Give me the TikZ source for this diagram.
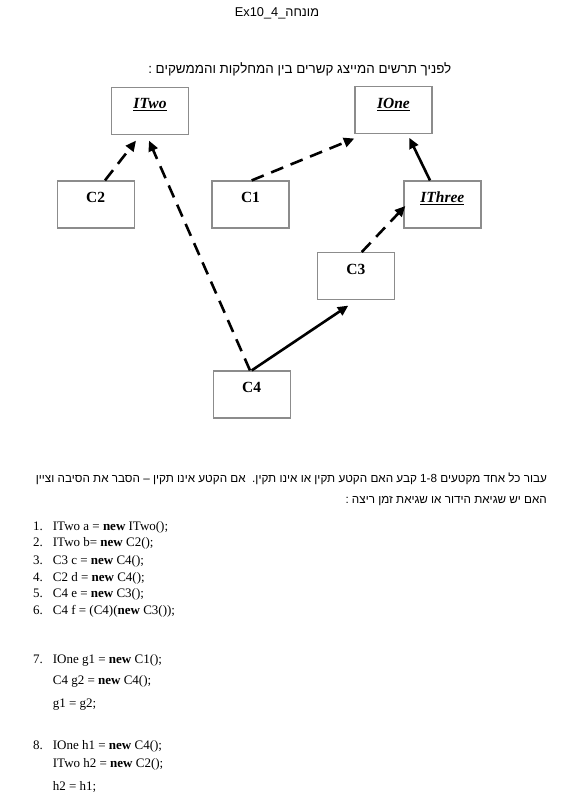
\documentclass[tikz,border=0pt]{standalone}
\usepackage{fontspec}
\setmainfont{Liberation Serif}
\newfontfamily\hebfont[Script=Hebrew]{Liberation Sans}
\newfontfamily\latsans{Liberation Sans}
\TeXXeTstate=1
\usetikzlibrary{arrows.meta,calc}
\definecolor{boxgray}{RGB}{140,140,140}
\newcommand{\ulthick}[1]{\setbox0\hbox{#1}\rlap{\rule[-2.6pt]{\wd0}{1.4pt}}\box0}
\tikzset{
  umlbox/.style={draw=boxgray, line width=1.2pt, minimum width=77pt, minimum height=47pt,
    inner sep=0pt, text height=21.5pt, text depth=25.5pt,
    font=\fontsize{15.5}{18}\selectfont\bfseries},
  depline/.style={line width=2.6pt, dash pattern=on 13pt off 8pt,
    -{Triangle[length=10.5pt,width=9.5pt]}},
  inhline/.style={line width=2.6pt, -{Triangle[length=10.5pt,width=9.5pt]}},
  codetxt/.style={anchor=base west, inner sep=0pt, font=\fontsize{13}{15}\selectfont},
  hebtxt/.style={anchor=base east, inner sep=0pt}
}
\begin{document}
\begin{tikzpicture}[x=1pt,y=-1pt]
\useasboundingbox[fill=white] (0,0) rectangle (560,798);

% header
\node[inner sep=0pt, anchor=base, font=\latsans\fontsize{12.8}{14}\selectfont] (title) at (277,16)
  {Ex10\_4\_{\hebfont\beginR מונחה\endR}};
\node[hebtxt, font=\hebfont\fontsize{13.4}{15}\selectfont] (intro) at (451.5,73.5)
  {\beginR לפניך תרשים המייצג קשרים בין המחלקות והממשקים :\endR};

% boxes
\node[umlbox] (ITwo) at (150,110.8) {\ulthick{\itshape ITwo}};
\node[umlbox] (IOne) at (393.4,110.3) {\ulthick{\itshape IOne}};
\node[umlbox] (C2) at (95.7,204.5) {C2};
\node[umlbox] (C1) at (250.5,204.5) {C1};
\node[umlbox] (IThree) at (442.4,204.5) {\ulthick{\itshape IThree}};
\node[umlbox] (C3) at (355.8,276.2) {C3};
\node[umlbox] (C4) at (251.7,394.5) {C4};

% connectors
\draw[depline] ($(C2.north)+(9.3,0)$) -- ($(ITwo.south)+(-14,5.7)$);
\draw[depline] ($(C4.north)+(-1.7,0)$) -- ($(ITwo.south)+(-1,5.7)$);
\draw[depline] ($(C1.north)+(1.2,0)$) -- ($(IOne.south west)+(0,4.1)$);
\draw[inhline] ($(IThree.north)+(-12.4,0)$) -- ($(IOne.south)+(15.9,3.4)$);
\draw[depline] ($(C3.north)+(5.9,0)$) -- ($(IThree.west)+(2,1.5)$);
\draw[inhline] (C4.north) -- ($(C3.south)+(-7.5,5.3)$);

% question text
\node[hebtxt, font=\hebfont\fontsize{11.7}{13}\selectfont] (q1) at (547,482)
  {\beginR עבור כל אחד מקטעים \beginL 1-8\endL{} קבע האם הקטע תקין או אינו תקין.\ \ אם הקטע אינו תקין – הסבר את הסיבה וציין\endR};
\node[hebtxt, font=\hebfont\fontsize{11.7}{13}\selectfont] (q2) at (547,503.5)
  {\beginR האם יש שגיאת הידור או שגיאת זמן ריצה :\endR};

% code lines
\node[codetxt] (n1) at (33,530) {1.};
\node[codetxt] (l1) at (52.7,530) {ITwo a = \textbf{new} ITwo();};
\node[codetxt] (n2) at (33,546.9) {2.};
\node[codetxt] (l2) at (52.7,546.9) {ITwo b= \textbf{new} C2();};
\node[codetxt] (n3) at (33,564.2) {3.};
\node[codetxt] (l3) at (52.7,564.2) {C3 c = \textbf{new} C4();};
\node[codetxt] (n4) at (33,581.1) {4.};
\node[codetxt] (l4) at (52.7,581.1) {C2 d = \textbf{new} C4();};
\node[codetxt] (n5) at (33,597.7) {5.};
\node[codetxt] (l5) at (52.7,597.7) {C4 e = \textbf{new} C3();};
\node[codetxt] (n6) at (33,614.6) {6.};
\node[codetxt] (l6) at (52.7,614.6) {C4 f = (C4)(\textbf{new} C3());};
\node[codetxt] (n7) at (33,663.5) {7.};
\node[codetxt] (l7) at (52.7,663.5) {IOne g1 = \textbf{new} C1();};
\node[codetxt] (l7b) at (52.7,684.7) {C4 g2 = \textbf{new} C4();};
\node[codetxt] (l7c) at (52.7,707.5) {g1 = g2;};
\node[codetxt] (n8) at (33,749.8) {8.};
\node[codetxt] (l8) at (52.7,749.8) {IOne h1 = \textbf{new} C4();};
\node[codetxt] (l8b) at (52.7,767.1) {ITwo h2 = \textbf{new} C2();};
\node[codetxt] (l8c) at (52.7,790) {h2 = h1;};
\end{tikzpicture}
\end{document}
